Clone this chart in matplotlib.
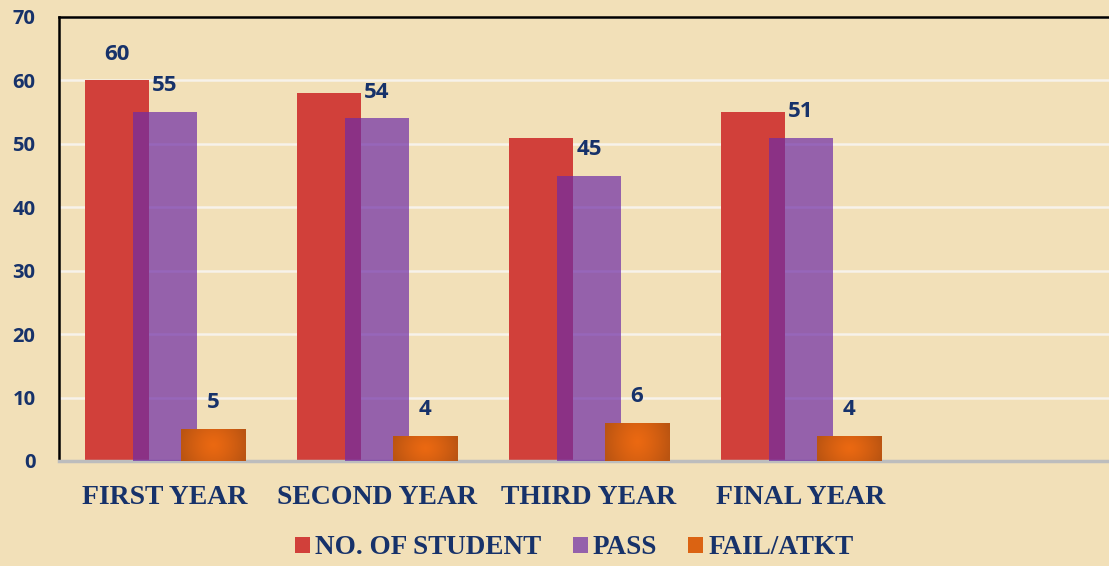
import numpy as np
import matplotlib
matplotlib.use("Agg")
import matplotlib.pyplot as plt

categories = ["FIRST YEAR", "SECOND YEAR", "THIRD YEAR", "FINAL YEAR"]
students = [60, 58, 51, 55]
passed = [55, 54, 45, 51]
fail = [5, 4, 6, 4]
student_labels = ["60", "", "", ""]
pass_labels = ["55", "54", "45", "51"]
fail_labels = ["5", "4", "6", "4"]
series_names = ["NO. OF STUDENT", "PASS", "FAIL/ATKT"]
yticks = [0, 10, 20, 30, 40, 50, 60, 70]

W, H = 1109, 566
fig = plt.figure(figsize=(W / 100, H / 100), dpi=100)
bg = "#F2E0B8"
fig.patch.set_facecolor(bg)

ax = fig.add_axes([59 / W, 1 - 461 / H, (1119 - 59) / W, (461 - 17) / H])
ax.set_facecolor(bg)

navy = "#17326A"
red = "#D1403A"
purple = (0.43, 0.17, 0.65, 0.70)

x = np.arange(len(categories))
bw = 0.302
off = 0.226

ax.bar(x - off, students, bw, color=red, zorder=2, label=series_names[0])
ax.bar(x, passed, bw, color=purple, zorder=3, label=series_names[1])
obars = ax.bar(x + off, fail, bw, color="#DB6312", zorder=4, label=series_names[2])

# radial gradient on orange bars
gy, gx = np.mgrid[-1:1:60j, -1:1:120j]
r = np.clip(np.sqrt(gx ** 2 + (gy * 0.5) ** 2) / 1.05, 0, 1) ** 1.3
c0 = np.array([0.92, 0.41, 0.07])
c1 = np.array([0.73, 0.33, 0.07])
img = c0[None, None, :] * (1 - r[..., None]) + c1[None, None, :] * r[..., None]
for b in obars:
    x0, y0, w, h = b.get_x(), b.get_y(), b.get_width(), b.get_height()
    im = ax.imshow(img, extent=[x0, x0 + w, y0, y0 + h], aspect="auto", zorder=5)
    im.set_clip_path(b)

lab_font = dict(family=["Open Sans", "DejaVu Sans"], fontweight="bold", fontsize=16, color=navy)
for xi, v, t in zip(x, students, student_labels):
    if t:
        ax.annotate(t, (xi - off, v), xytext=(0, 19), textcoords="offset points",
                    ha="center", va="center", **lab_font)
for xi, v, t in zip(x, passed, pass_labels):
    ax.annotate(t, (xi, v), xytext=(0, 19), textcoords="offset points",
                ha="center", va="center", **lab_font)
for xi, v, t in zip(x, fail, fail_labels):
    ax.annotate(t, (xi + off, v), xytext=(0, 19), textcoords="offset points",
                ha="center", va="center", **lab_font)

ax.set_xlim(-0.5, 4.5)
ax.set_ylim(0, 70)
ax.set_yticks(yticks)
ax.set_yticklabels([str(v) for v in yticks], family=["Open Sans", "DejaVu Sans"],
                   fontweight="bold", fontsize=14.5, color=navy)
ax.set_xticks(x)
ax.set_xticklabels(categories, family=["Liberation Serif"], fontweight="bold",
                   fontsize=20, color=navy)
ax.tick_params(axis="y", length=0, pad=17)
ax.tick_params(axis="x", length=0, pad=17)

ax.grid(axis="y", color="#F7F2EA", linewidth=1.8, zorder=1)
ax.set_axisbelow(True)
for s in ["left", "top", "right"]:
    ax.spines[s].set_color("black")
    ax.spines[s].set_linewidth(1.8)
ax.spines["bottom"].set_color("#BDBDBD")
ax.spines["bottom"].set_linewidth(2.5)

leg = fig.legend(loc="center", bbox_to_anchor=(0.518, 1 - 548 / H), ncol=3, frameon=False,
                 prop=dict(family="Liberation Serif", weight="bold", size=19.5),
                 handlelength=0.55, handleheight=0.55, handletextpad=0.2,
                 columnspacing=1.15)
for t in leg.get_texts():
    t.set_color(navy)

fig.savefig("out.png", dpi=100, facecolor=bg)
